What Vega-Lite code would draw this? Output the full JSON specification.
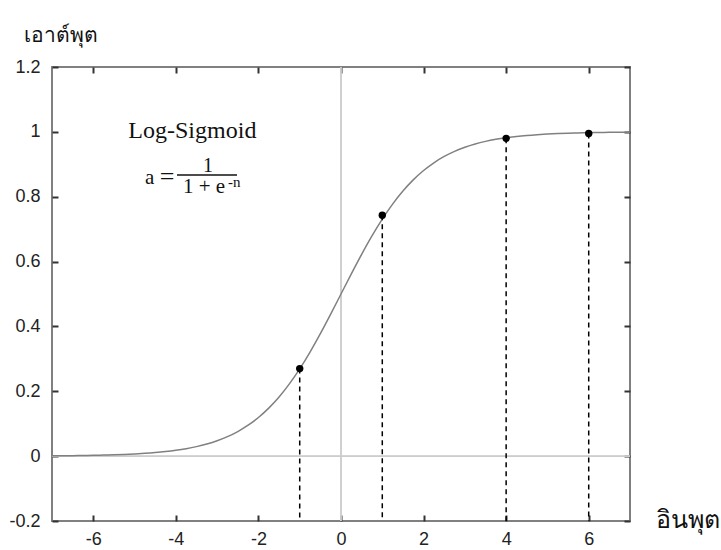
{
  "$schema": "https://vega.github.io/schema/vega-lite/v6.json",
  "width": 578,
  "height": 454,
  "autosize": "none",
  "padding": {"left": 52, "top": 67, "right": 91, "bottom": 29},
  "background": "white",
  "config": {
    "view": {"stroke": "#808080", "strokeWidth": 2},
    "axis": {
      "grid": false, "domain": false,
      "labelFont": "Liberation Sans", "labelFontSize": 18, "labelColor": "#222222",
      "tickColor": "#333333", "tickWidth": 2, "tickSize": -6,
      "titleFont": "Noto Sans", "titleFontWeight": "normal", "titleColor": "#111111"
    }
  },
  "datasets": {
    "curve": [
      {"x": -7, "y": 0.000911}, {"x": -6.75, "y": 0.001169}, {"x": -6.5, "y": 0.001501}, {"x": -6.25, "y": 0.001927},
      {"x": -6, "y": 0.002473}, {"x": -5.75, "y": 0.003173}, {"x": -5.5, "y": 0.00407}, {"x": -5.25, "y": 0.00522},
      {"x": -5, "y": 0.006693}, {"x": -4.75, "y": 0.008577}, {"x": -4.5, "y": 0.010987}, {"x": -4.25, "y": 0.014064},
      {"x": -4, "y": 0.017986}, {"x": -3.75, "y": 0.022977}, {"x": -3.5, "y": 0.029312}, {"x": -3.25, "y": 0.037327},
      {"x": -3, "y": 0.047426}, {"x": -2.75, "y": 0.060087}, {"x": -2.5, "y": 0.075858}, {"x": -2.25, "y": 0.095349},
      {"x": -2, "y": 0.119203}, {"x": -1.75, "y": 0.148047}, {"x": -1.5, "y": 0.182426}, {"x": -1.25, "y": 0.2227},
      {"x": -1, "y": 0.268941}, {"x": -0.75, "y": 0.320821}, {"x": -0.5, "y": 0.377541}, {"x": -0.25, "y": 0.437823},
      {"x": 0, "y": 0.5}, {"x": 0.25, "y": 0.562177}, {"x": 0.5, "y": 0.622459}, {"x": 0.75, "y": 0.679179},
      {"x": 1, "y": 0.731059}, {"x": 1.25, "y": 0.7773}, {"x": 1.5, "y": 0.817574}, {"x": 1.75, "y": 0.851953},
      {"x": 2, "y": 0.880797}, {"x": 2.25, "y": 0.904651}, {"x": 2.5, "y": 0.924142}, {"x": 2.75, "y": 0.939913},
      {"x": 3, "y": 0.952574}, {"x": 3.25, "y": 0.962673}, {"x": 3.5, "y": 0.970688}, {"x": 3.75, "y": 0.977023},
      {"x": 4, "y": 0.982014}, {"x": 4.25, "y": 0.985936}, {"x": 4.5, "y": 0.989013}, {"x": 4.75, "y": 0.991423},
      {"x": 5, "y": 0.993307}, {"x": 5.25, "y": 0.99478}, {"x": 5.5, "y": 0.99593}, {"x": 5.75, "y": 0.996827},
      {"x": 6, "y": 0.997527}, {"x": 6.25, "y": 0.998073}, {"x": 6.5, "y": 0.998499}, {"x": 6.75, "y": 0.998831},
      {"x": 7, "y": 0.999089}
    ],
    "pts": [
      {"x": -1, "y": 0.27}, {"x": 1, "y": 0.743}, {"x": 4, "y": 0.98}, {"x": 6, "y": 0.995}
    ]
  },
  "layer": [
    {
      "layer": [
        {
          "data": {"name": "pts"},
          "mark": {"type": "rule", "color": "#cccccc", "strokeWidth": 1},
          "encoding": {
            "x": {"datum": 0, "type": "quantitative", "scale": {"domain": [-7, 7], "nice": false, "zero": false},
              "axis": {"values": [-6, -4, -2, 0, 2, 4, 6], "orient": "bottom", "labelPadding": 15,
                "labelExpr": "datum.value < 0 ? '-' + format(-datum.value, '~g') : format(datum.value, '~g')",
                "title": "อินพุต", "titleFontSize": 25, "titleAngle": 0, "titleAlign": "left", "titleBaseline": "alphabetic",
                "titleX": 603, "titleY": 6}}
          }
        },
        {
          "data": {"name": "pts"},
          "mark": {"type": "rule", "color": "#cccccc", "strokeWidth": 1},
          "encoding": {
            "y": {"datum": 0, "type": "quantitative", "scale": {"domain": [-0.2, 1.2], "nice": false, "zero": false},
              "axis": {"values": [-0.2, 0, 0.2, 0.4, 0.6, 0.8, 1, 1.2], "orient": "left", "labelPadding": 18,
                "labelExpr": "datum.value < 0 ? '-' + format(-datum.value, '~g') : format(datum.value, '~g')",
                "title": "เอาต์พุต", "titleFontSize": 21, "titleAngle": 0, "titleAlign": "left", "titleBaseline": "alphabetic",
                "titleX": -29, "titleY": -26}}
          }
        },
        {
          "data": {"name": "curve"},
          "mark": {"type": "line", "color": "#808080", "strokeWidth": 1.5, "interpolate": "monotone"},
          "encoding": {
            "x": {"field": "x", "type": "quantitative"},
            "y": {"field": "y", "type": "quantitative"}
          }
        },
        {
          "data": {"name": "pts"},
          "mark": {"type": "rule", "color": "#000000", "strokeWidth": 1.5, "strokeDash": [5, 4]},
          "encoding": {
            "x": {"field": "x", "type": "quantitative"},
            "y": {"field": "y", "type": "quantitative"},
            "y2": {"datum": -0.2}
          }
        },
        {
          "data": {"name": "pts"},
          "mark": {"type": "point", "filled": true, "color": "#000000", "opacity": 1, "size": 55},
          "encoding": {
            "x": {"field": "x", "type": "quantitative"},
            "y": {"field": "y", "type": "quantitative"}
          }
        },
        {
          "data": {"values": [{"t": "Log-Sigmoid"}]},
          "mark": {"type": "text", "font": "Liberation Serif", "fontSize": 24, "align": "center", "baseline": "alphabetic", "color": "#111111"},
          "encoding": {"x": {"datum": -3.6}, "y": {"datum": 0.981}, "text": {"field": "t"}}
        },
        {
          "data": {"values": [{"t": "a"}]},
          "mark": {"type": "text", "font": "Liberation Serif", "fontSize": 21, "align": "left", "baseline": "alphabetic", "color": "#111111"},
          "encoding": {"x": {"datum": -4.747}, "y": {"datum": 0.839}, "text": {"field": "t"}}
        },
        {
          "data": {"values": [{"t": "="}]},
          "mark": {"type": "text", "font": "Liberation Serif", "fontSize": 26, "align": "center", "baseline": "alphabetic", "color": "#111111"},
          "encoding": {"x": {"datum": -4.214}, "y": {"datum": 0.836}, "text": {"field": "t"}}
        },
        {
          "data": {"values": [{"t": "1"}]},
          "mark": {"type": "text", "font": "Liberation Serif", "fontSize": 20, "align": "center", "baseline": "alphabetic", "color": "#111111"},
          "encoding": {"x": {"datum": -3.221}, "y": {"datum": 0.876}, "text": {"field": "t"}}
        },
        {
          "data": {"values": [{"t": "1 + e"}]},
          "mark": {"type": "text", "font": "Liberation Serif", "fontSize": 21, "align": "left", "baseline": "alphabetic", "color": "#111111"},
          "encoding": {"x": {"datum": -3.827}, "y": {"datum": 0.811}, "text": {"field": "t"}}
        },
        {
          "data": {"values": [{"t": "-n"}]},
          "mark": {"type": "text", "font": "Liberation Serif", "fontSize": 15, "align": "left", "baseline": "alphabetic", "color": "#111111"},
          "encoding": {"x": {"datum": -2.737}, "y": {"datum": 0.83}, "text": {"field": "t"}}
        },
        {
          "data": {"values": [{"t": "line"}]},
          "mark": {"type": "rule", "color": "#111111", "strokeWidth": 1.3},
          "encoding": {"x": {"datum": -3.972}, "x2": {"datum": -2.519}, "y": {"datum": 0.867}}
        }
      ]
    },
    {
      "data": {"name": "pts"},
      "mark": {"type": "point", "opacity": 0},
      "encoding": {
        "x": {"field": "x", "type": "quantitative",
          "axis": {"orient": "top", "values": [-6, -4, -2, 0, 2, 4, 6], "labels": false, "title": null}},
        "y": {"field": "y", "type": "quantitative",
          "axis": {"orient": "right", "values": [-0.2, 0, 0.2, 0.4, 0.6, 0.8, 1, 1.2], "labels": false, "title": null}}
      }
    }
  ],
  "resolve": {"axis": {"x": "independent", "y": "independent"}}
}
